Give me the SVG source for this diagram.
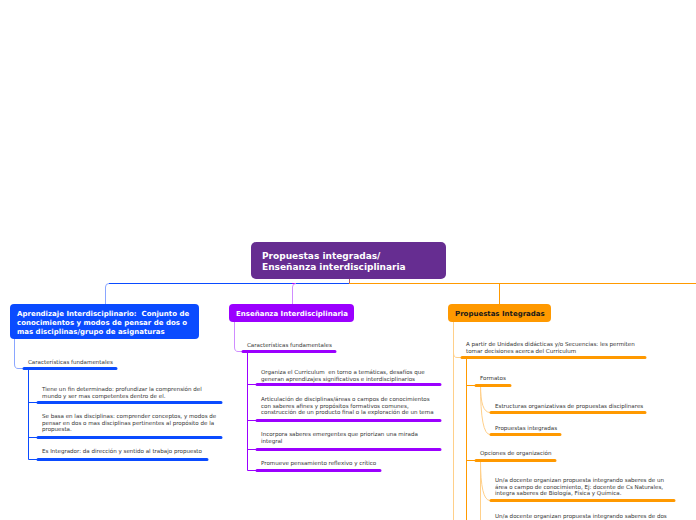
<svg xmlns="http://www.w3.org/2000/svg" width="696" height="520" viewBox="0 0 696 520">
<style>
.t{font-family:"DejaVu Sans",Verdana,sans-serif;font-size:5.55px;fill:#333}
.nt{font-family:"DejaVu Sans",Verdana,sans-serif;font-weight:bold;font-size:7px;fill:#fff;white-space:pre}
.c{fill:none;stroke-width:1}
.u{fill:none;stroke-width:3;stroke-linecap:round}
.b{stroke:#0a4bff}.bl{stroke:#8aa6ff}
.p{stroke:#9b00ff}.pl{stroke:#cf8cff}
.o{stroke:#ff9900}.ol{stroke:#ffd08a}
</style>
<rect width="696" height="520" fill="#fff"/>
<g id="connectors">
<path class="c" stroke="#b06070" d="M349.5 279V283.5"/>
<path class="c b" d="M349 283.5H109"/>
<path class="c bl" d="M109 283.5Q105.5 283.5 105.5 287V304"/>
<path class="c p" d="M296 283.5H292"/>
<path class="c pl" d="M296 283.5Q292.5 283.5 292.5 287V304"/>
<path class="c o" d="M349 283.5H696"/>
<path class="c o" d="M499.5 283.5V304"/>
<!-- left -->
<path class="c bl" d="M14.5 339V364Q14.5 368.5 18 368.5H24"/>
<path class="c b" d="M28.5 368V459.5M28.5 402.5H37M28.5 437.5H37M28.5 459.5H37"/>
<!-- middle -->
<path class="c pl" d="M234.5 322V347Q234.5 351.5 238 351.5H243"/>
<path class="c p" d="M247.5 351V470.5M247.5 384.5H256M247.5 420.5H256M247.5 449.5H256M247.5 470.5H256"/>
<!-- right -->
<path class="c ol" d="M453.5 322V520M453.5 353Q453.5 357.5 457 357.5H461"/>
<path class="c o" d="M466.5 357V520M466.5 385.5H475M466.5 460.5H475"/>
<path class="c ol" d="M480.5 385Q480.5 412.5 490 412.5M480.5 385Q480.5 434.5 490 434.5"/>
<path class="c ol" d="M480.5 460V520M480.5 460Q480.5 500.5 490 500.5"/>
<!-- underlines -->
<path class="u b" d="M24 368.5H116M38 402.5H221M38 437.5H221M38 459.5H207"/>
<path class="u p" d="M243 351.5H335M257 384.5H440M257 420.5H440M257 449.5H440M257 470.5H380"/>
<path class="u o" d="M462 357.5H645M476 385.5H510M491 412.5H645M491 434.5H560M476 460.5H555M491 500.5H674"/>
</g>
<g id="root">
<rect x="251" y="242" width="195" height="37" rx="5" fill="#662d91"/>
<text class="nt" style="font-size:9px" x="262" y="259">Propuestas integradas/</text>
<text class="nt" style="font-size:9px" x="262" y="270">Enseñanza interdisciplinaria</text>
</g>
<g id="n-aprendizaje">
<rect x="10" y="304" width="189" height="35" rx="4" fill="#0a4bff"/>
<text class="nt" x="17" y="316">Aprendizaje Interdisciplinario:  Conjunto de</text>
<text class="nt" x="17" y="325">conocimientos y modos de pensar de dos o</text>
<text class="nt" x="17" y="334">mas disciplinas/grupo de asignaturas</text>
</g>
<g id="n-ensenanza">
<rect x="229" y="304" width="125" height="18" rx="4" fill="#9b00ff"/>
<text class="nt" x="236" y="316">Enseñanza Interdisciplinaria</text>
</g>
<g id="n-propuestas">
<rect x="448" y="304" width="103" height="18" rx="4" fill="#ff9900"/>
<text class="nt" style="fill:#1a1a1a" x="455" y="316">Propuestas Integradas</text>
</g>
<g id="l-carac"><text class="t" x="28" y="364">Características fundamentales</text></g>
<g id="l-1"><text class="t" x="42" y="391">Tiene un fin determinado: profundizar la comprensión del</text><text class="t" x="42" y="397.5">mundo y ser mas competentes dentro de el.</text></g>
<g id="l-2"><text class="t" x="42" y="418">Se basa en las disciplinas: comprender conceptos, y modos de</text><text class="t" x="42" y="424.5">pensar en dos o mas disciplinas pertinentes al propósito de la</text><text class="t" x="42" y="431">propuesta.</text></g>
<g id="l-3"><text class="t" x="42" y="453">Es Integrador: da dirección y sentido al trabajo propuesto</text></g>
<g id="m-carac"><text class="t" x="247" y="347">Características fundamentales</text></g>
<g id="m-1"><text class="t" x="261" y="374" style="white-space:pre">Organiza el Curriculum  en torno a temáticas, desafíos que</text><text class="t" x="261" y="380.5">generan aprendizajes significativos e interdisciplinarios</text></g>
<g id="m-2"><text class="t" x="261" y="401">Articulación de disciplinas/áreas o campos de conocimientos</text><text class="t" x="261" y="407.5">con saberes afines y propósitos formativos comunes,</text><text class="t" x="261" y="414">construcción de un producto final o la exploración de un tema</text></g>
<g id="m-3"><text class="t" x="261" y="436">Incorpora saberes emergentes que priorizan una mirada</text><text class="t" x="261" y="443">integral</text></g>
<g id="m-4"><text class="t" x="261" y="465">Promueve pensamiento reflexivo y crítico</text></g>
<g id="r-1"><text class="t" x="466" y="346">A partir de Unidades didácticas y/o Secuencias: les permiten</text><text class="t" x="466" y="352.5">tomar decisiones acerca del Curriculum</text></g>
<g id="r-formatos"><text class="t" x="480" y="380">Formatos</text></g>
<g id="r-estructuras"><text class="t" x="495" y="408">Estructuras organizativas de propuestas disciplinares</text></g>
<g id="r-propint"><text class="t" x="495" y="430">Propuestas integradas</text></g>
<g id="r-opciones"><text class="t" x="480" y="455">Opciones de organización</text></g>
<g id="r-op1"><text class="t" x="495" y="482">Un/a docente organizan propuesta integrando saberes de un</text><text class="t" x="495" y="488.5">área o campo de conocimiento, Ej: docente de Cs Naturales,</text><text class="t" x="495" y="495">integra saberes de Biología, Física y Química.</text></g>
<g id="r-op2"><text class="t" x="495" y="518">Un/a docente organizan propuesta integrando saberes de dos</text></g>
</svg>
